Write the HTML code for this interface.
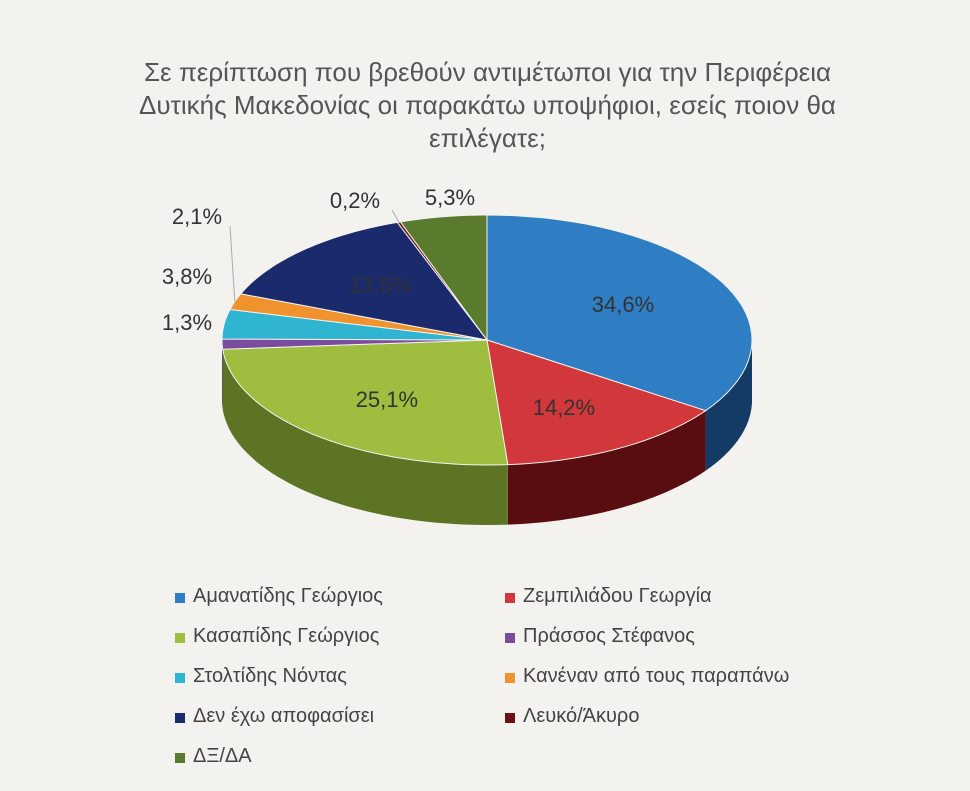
<!DOCTYPE html>
<html><head><meta charset="utf-8"><style>
body{margin:0;background:#f3f2ef;font-family:"Liberation Sans","DejaVu Sans",sans-serif;}
#wrap{position:relative;width:970px;height:791px;overflow:hidden;background:#f3f2ef;}
.title{position:absolute;left:0;width:975px;top:56px;text-align:center;font-size:26px;line-height:33px;color:#555;}
.leg{position:absolute;font-size:20px;color:#444;}
.sq{position:absolute;width:10px;height:10px;}
</style></head><body>
<div id="wrap">
<div class="title">Σε περίπτωση που βρεθούν αντιμέτωποι για την Περιφέρεια<br>Δυτικής Μακεδονίας οι παρακάτω υποψήφιοι, εσείς ποιον θα<br>επιλέγατε;</div>
<svg id="pie" width="970" height="791" style="position:absolute;left:0;top:0"></svg>
<div id="legend"></div>
</div>
<script>
const categories=["Αμανατίδης Γεώργιος","Ζεμπιλιάδου Γεωργία","Κασαπίδης Γεώργιος","Πράσσος Στέφανος","Στολτίδης Νόντας","Κανέναν από τους παραπάνω","Δεν έχω αποφασίσει","Λευκό/Άκυρο","ΔΞ/ΔΑ"];
const values=[34.6,14.2,25.1,1.3,3.8,2.1,13.5,0.2,5.3];
const valueLabels=["34,6%","14,2%","25,1%","1,3%","3,8%","2,1%","13,5%","0,2%","5,3%"];
const colors=["#2f7ec3","#d1373b","#9fbd3e","#7b4b9e","#2fb5d2","#f0922e","#1a2a6c","#6d1016","#5a7a2d"];
const sides=["#143a66","#5a0d10","#5c7424","#4a2a60","#1a6e82","#9a5a1a","#0e1640","#3a0808","#344a18"];
// layout: fixed label positions for small outside labels (layout, not data)
const outsidePos={3:[187,330],4:[187,284],5:[197,224],7:[355,208],8:[450,205]};
const leaders={5:[230,226],7:[392,210]};
const cx=487,cy=340,rx=265,ry=125,depth=60;
const svg=document.getElementById('pie');
const NS="http://www.w3.org/2000/svg";
function pt(t,dy){return [cx+rx*Math.sin(t),cy-ry*Math.cos(t)+(dy||0)];}
function arc(a,b,dy){let s="";const n=40;for(let i=0;i<=n;i++){const p=pt(a+(b-a)*i/n,dy);s+=(i?"L":"")+p[0].toFixed(1)+","+p[1].toFixed(1);}return s;}
const total=values.reduce((a,b)=>a+b,0);
let acc=0;const ang=values.map(v=>{const a=acc/total*2*Math.PI;acc+=v;return [a,acc/total*2*Math.PI];});
ang.forEach(([a,b],i)=>{
  const lo=Math.max(a,Math.PI/2),hi=Math.min(b,3*Math.PI/2);
  if(hi<=lo)return;
  const p=document.createElementNS(NS,'path');
  p.setAttribute('d',"M"+arc(lo,hi,0)+"L"+arc(hi,lo,depth)+"Z");
  p.setAttribute('fill',sides[i]);
  
  
  svg.appendChild(p);
});
ang.forEach(([a,b],i)=>{
  const p=document.createElementNS(NS,'path');
  p.setAttribute('d',"M"+cx+","+cy+"L"+arc(a,b,0)+"Z");
  p.setAttribute('fill',colors[i]);
  p.setAttribute('stroke','#f3f2ef');p.setAttribute('stroke-width','1');
  
  
  svg.appendChild(p);
});
ang.forEach(([a,b],i)=>{
  const m=(a+b)/2;
  let x,y;
  if(outsidePos[i]){x=outsidePos[i][0];y=outsidePos[i][1];}
  else{x=cx+rx*0.58*Math.sin(m);y=cy-ry*0.62*Math.cos(m)+8;}
  if(leaders[i]){
    const e=pt(m,0);
    const l=document.createElementNS(NS,'line');
    l.setAttribute('x1',leaders[i][0]);l.setAttribute('y1',leaders[i][1]);l.setAttribute('x2',e[0]);l.setAttribute('y2',e[1]);
    l.setAttribute('stroke','#aaa');l.setAttribute('stroke-width','1');
    
    
    svg.appendChild(l);
  }
  const t=document.createElementNS(NS,'text');
  t.setAttribute('x',x);t.setAttribute('y',y);t.setAttribute('text-anchor','middle');
  t.setAttribute('font-size','22');t.setAttribute('fill','#333');
  t.setAttribute('font-family','"Liberation Sans",sans-serif');
  t.textContent=valueLabels[i];
  
  
  svg.appendChild(t);
});
const lg=document.getElementById('legend');
categories.forEach((c,i)=>{
  const col=i%2,row=Math.floor(i/2);
  const x=col?505:175,y=585+row*40;
  const s=document.createElement('div');s.className='sq';
  s.style.left=x+'px';s.style.top=(y+8)+'px';s.style.background=colors[i];
  
  
  lg.appendChild(s);
  const d=document.createElement('div');d.className='leg';
  d.style.left=(x+18)+'px';d.style.top=y+'px';d.textContent=c;
  
  
  lg.appendChild(d);
});
</script>
</body></html>
